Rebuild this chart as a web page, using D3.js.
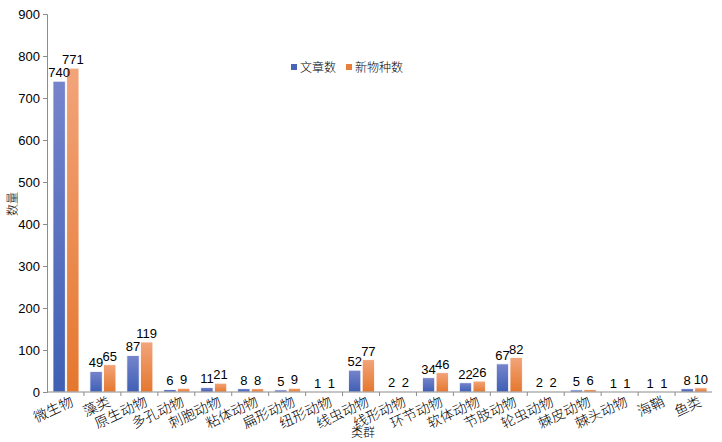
<!DOCTYPE html>
<html>
<head>
<meta charset="utf-8">
<script src="https://cdn.jsdelivr.net/npm/d3@7/dist/d3.min.js"></script>
<style>
  body { margin: 0; background: #fff; }
  text { font-family: "Liberation Sans", Arial, "Noto Sans CJK SC", sans-serif; }
  .cjk { font-family: "Noto Sans CJK SC", sans-serif; font-weight: 300; }
</style>
</head>
<body>
<div id="chart"></div>
<script>
const categories = ['微生物', '藻类', '原生动物', '多孔动物', '刺胞动物', '粘体动物', '扁形动物', '纽形动物', '线虫动物',
    '线形动物', '环节动物', '软体动物', '节肢动物', '轮虫动物', '棘皮动物', '棘头动物', '海鞘', '鱼类'];
const articles = [740, 49, 87, 6, 11, 8, 5, 1, 52, 2, 34, 22, 67, 2, 5, 1, 1, 8];
const newSpecies = [771, 65, 119, 9, 21, 8, 9, 1, 77, 2, 46, 26, 82, 2, 6, 1, 1, 10];
const seriesNames = ['文章数', '新物种数'];
const yTicks = [0, 100, 200, 300, 400, 500, 600, 700, 800, 900];

const width = 722, height = 442;
const margin = { top: 14, right: 10, bottom: 50, left: 47 };

const svg = d3.select('#chart').append('svg')
    .attr('width', width)
    .attr('height', height);

const defs = svg.append('defs');
const grads = [
    { id: 'gBlue', top: '#7684cc', bottom: '#3f5fb4' },
    { id: 'gOrange', top: '#f2a47a', bottom: '#e5772e' }
];
grads.forEach(g => {
    const lg = defs.append('linearGradient').attr('id', g.id)
        .attr('x1', 0).attr('y1', 0).attr('x2', 0).attr('y2', 1);
    lg.append('stop').attr('offset', '0%').attr('stop-color', g.top);
    lg.append('stop').attr('offset', '100%').attr('stop-color', g.bottom);
});

const x = d3.scaleBand()
    .domain(categories)
    .range([margin.left, width - margin.right]);

const x1 = d3.scaleBand()
    .domain([0, 1])
    .range([x.bandwidth() / 2 - 12.5, x.bandwidth() / 2 + 13.5])
    .paddingInner(0.1);

const y = d3.scaleLinear()
    .domain([0, 900])
    .range([height - margin.bottom, margin.top]);

// y axis
const yAxis = svg.append('g')
    .attr('transform', `translate(${margin.left},0)`)
    .call(d3.axisLeft(y).tickValues(yTicks).tickSize(4).tickPadding(3));
yAxis.select('.domain').attr('stroke', '#8c8c8c');
yAxis.selectAll('.tick line').attr('stroke', '#8c8c8c');
yAxis.selectAll('.tick text').attr('font-size', 13).attr('fill', '#000');

// bars
const data = categories.map((c, i) => ({ cat: c, vals: [articles[i], newSpecies[i]] }));
const groups = svg.append('g').selectAll('g')
    .data(data)
    .join('g')
    .attr('transform', d => `translate(${x(d.cat)},0)`);

groups.selectAll('rect')
    .data(d => d.vals.map((v, k) => ({ k, v })))
    .join('rect')
    .attr('x', d => x1(d.k))
    .attr('width', x1.bandwidth())
    .attr('y', d => y(d.v))
    .attr('height', d => y(0) - y(d.v))
    .attr('fill', d => d.k === 0 ? 'url(#gBlue)' : 'url(#gOrange)')
    .attr('stroke', '#fff')
    .attr('stroke-width', 0.8);

groups.selectAll('text.val')
    .data(d => d.vals.map((v, k) => ({ k, v })))
    .join('text')
    .attr('class', 'val')
    .attr('x', d => x1(d.k) + x1.bandwidth() / 2)
    .attr('y', d => y(d.v) - 4)
    .attr('text-anchor', 'middle')
    .attr('font-size', 13)
    .attr('fill', '#000')
    .text(d => d.v);

// x axis
const xAxis = svg.append('g')
    .attr('transform', `translate(0,${y(0)})`);
xAxis.append('line')
    .attr('x1', margin.left).attr('x2', width - margin.right)
    .attr('stroke', '#8c8c8c');
xAxis.selectAll('line.tk')
    .data(categories.slice(1))
    .join('line')
    .attr('class', 'tk')
    .attr('x1', d => x(d)).attr('x2', d => x(d))
    .attr('y1', 0).attr('y2', 4)
    .attr('stroke', '#8c8c8c');
xAxis.selectAll('text')
    .data(categories)
    .join('text')
    .attr('class', 'cjk')
    .attr('transform', d => `translate(${x(d) + x.bandwidth() / 2 + 9},${13}) rotate(-25)`)
    .attr('text-anchor', 'end')
    .attr('font-size', 14)
    .attr('fill', '#000')
    .text(d => d);

// axis titles
svg.append('text')
    .attr('class', 'cjk')
    .attr('x', 363).attr('y', 437)
    .attr('text-anchor', 'middle')
    .attr('font-size', 12)
    .text('类群');
svg.append('text')
    .attr('class', 'cjk')
    .attr('transform', `translate(17,204) rotate(-90)`)
    .attr('text-anchor', 'middle')
    .attr('font-size', 12)
    .text('数量');

// legend
const legend = svg.append('g').attr('transform', 'translate(291,67)');
const legendX = [0, 55];
seriesNames.forEach((name, i) => {
    legend.append('rect')
        .attr('x', legendX[i]).attr('y', -3)
        .attr('width', 6).attr('height', 6)
        .attr('fill', i === 0 ? '#4a64b8' : '#e8803c');
    legend.append('text')
        .attr('class', 'cjk')
        .attr('x', legendX[i] + 9).attr('y', 4.5)
        .attr('font-size', 12)
        .text(name);
});
</script>
</body>
</html>
